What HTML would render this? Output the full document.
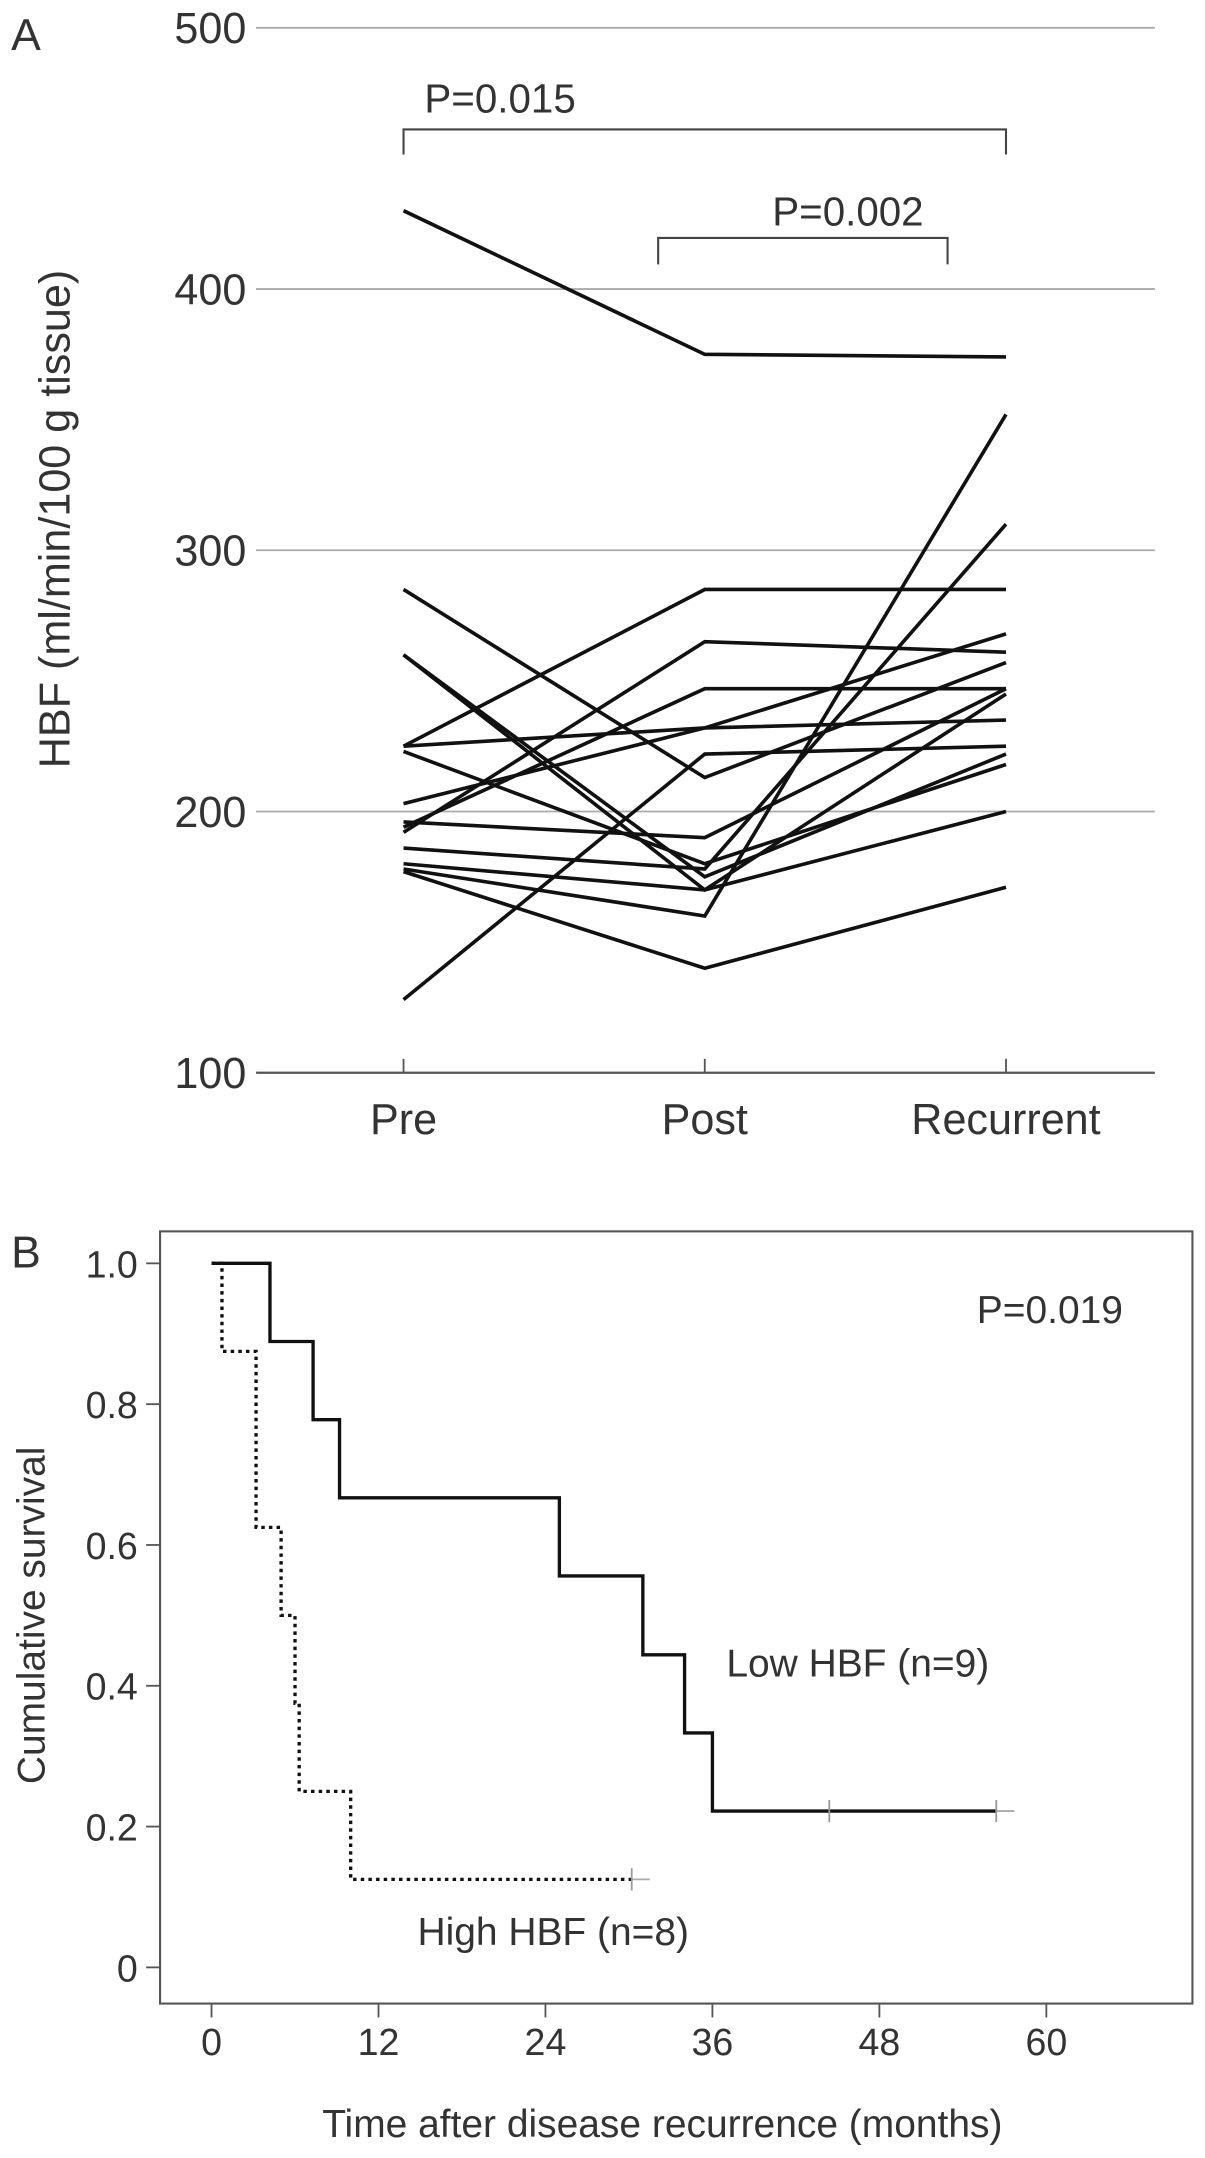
<!DOCTYPE html>
<html><head><meta charset="utf-8"><style>
html,body{margin:0;padding:0;background:#fff}
svg{display:block}
text{font-family:"Liberation Sans",Arial,sans-serif;fill:#333}
</style></head><body>
<svg id="chart" width="1205" height="2158" viewBox="0 0 866 1551" xmlns="http://www.w3.org/2000/svg">
<g id="panelA"></g>
<g id="panelB"></g>
</svg>
<script>
// Panel A data
const categoriesA = ["Pre","Post","Recurrent"];
const yTicksA = [100,200,300,400,500];
const preVals  = [430,285,260,260,225,225,223,203,196,194,192,186,180,178,177,128];
const postVals = [375,213,170,175,285,232,180,232,190,247,265,178,170,160,140,222];
const recVals  = [374,257,245,222,285,235,218,268,247,247,261,310,200,352,171,225];
// Panel B data
const xTicksB = [0,12,24,36,48,60];
const yTicksB = [0,0.2,0.4,0.6,0.8,1.0];
const lowTimes = [0,4.2,7.3,9.2,25,31,34,36,56.4];
const lowSurv  = [1.0,0.889,0.778,0.667,0.556,0.444,0.333,0.222,0.222];
const lowCensor = [44.4,56.4];
const highTimes = [0,0.75,3.2,5,6,6.3,10,30.2];
const highSurv  = [1.0,0.875,0.625,0.5,0.375,0.25,0.125,0.125];
const highCensor = [30.2];

const NS="http://www.w3.org/2000/svg";
function mk(parent,tag,attrs,txt){const e=document.createElementNS(NS,tag);for(const k in attrs)e.setAttribute(k,attrs[k]);if(txt!==undefined)e.textContent=txt;parent.appendChild(e);return e;}

// ---- Panel A ----
const A=document.getElementById('panelA');
const yA=v=>771-(v-100)*(751/400);
const xA=i=>290+i*216.5;
mk(A,'text',{x:8,y:36,'font-size':32,},'A');
yTicksA.forEach(t=>{
  const g=mk(A,'line',{x1:184,x2:830,y1:yA(t),y2:yA(t),stroke:t===100?'#555':'#aaa','stroke-width':t===100?1.6:1.3});
  
  
  const lb=mk(A,'text',{x:177,y:yA(t)+11,'font-size':31,'text-anchor':'end'},String(t));
  
  
});
categoriesA.forEach((c,i)=>{
  const tk=mk(A,'line',{x1:xA(i),x2:xA(i),y1:yA(100),y2:yA(100)-10,stroke:'#555','stroke-width':1.3});
  
  
  const lb=mk(A,'text',{x:xA(i),y:815,'font-size':31,'text-anchor':'middle'},c);
  
  
});
const yt=mk(A,'text',{x:0,y:0,'font-size':31,'text-anchor':'middle',transform:'translate(50,373) rotate(-90)'},'HBF (ml/min/100 g tissue)');


preVals.forEach((p,i)=>{
  const pl=mk(A,'polyline',{points:[[xA(0),yA(p)],[xA(1),yA(postVals[i])],[xA(2),yA(recVals[i])]].map(a=>a.join(',')).join(' '),fill:'none',stroke:'#111','stroke-width':2.6});
  
  
});
const b1=mk(A,'path',{d:'M290,111 V93 H723 V111',fill:'none',stroke:'#444','stroke-width':1.5});


const p1=mk(A,'text',{x:305,y:81,'font-size':29},'P=0.015');


const b2=mk(A,'path',{d:'M473,190 V171 H681 V190',fill:'none',stroke:'#444','stroke-width':1.5});


const p2=mk(A,'text',{x:555,y:162,'font-size':29},'P=0.002');



// ---- Panel B ----
const B=document.getElementById('panelB');
const xB=t=>152+t*(600/60);
const yB=s=>1414-s*506;
mk(B,'text',{x:8,y:911,'font-size':32,},'B');
const box=mk(B,'rect',{x:115,y:885,width:742,height:555,fill:'none',stroke:'#555','stroke-width':1.5});


yTicksB.forEach(t=>{
  const l=mk(B,'line',{x1:105,x2:115,y1:yB(t),y2:yB(t),stroke:'#555','stroke-width':1.3});
  
  
  const lb=mk(B,'text',{x:99,y:yB(t)+10,'font-size':27,'text-anchor':'end'},t===0?'0':t.toFixed(1));
  
  
});
xTicksB.forEach(t=>{
  const l=mk(B,'line',{x1:xB(t),x2:xB(t),y1:1440,y2:1450,stroke:'#555','stroke-width':1.3});
  
  
  const lb=mk(B,'text',{x:xB(t),y:1477,'font-size':27,'text-anchor':'middle'},String(t));
  
  
});
const xt=mk(B,'text',{x:476,y:1536,'font-size':28,'text-anchor':'middle'},'Time after disease recurrence (months)');


const ytb=mk(B,'text',{x:0,y:0,'font-size':28,'text-anchor':'middle',transform:'translate(32,1161) rotate(-90)'},'Cumulative survival');


function stepPath(times,surv){let d='M'+xB(times[0])+','+yB(surv[0]);for(let i=1;i<times.length;i++){d+=' H'+xB(times[i])+' V'+yB(surv[i]);}return d;}
const low=mk(B,'path',{d:stepPath(lowTimes,lowSurv),fill:'none',stroke:'#111','stroke-width':2.4});


const high=mk(B,'path',{d:stepPath(highTimes,highSurv),fill:'none',stroke:'#111','stroke-width':2.4,'stroke-dasharray':'2.5,3'});


const ext1=mk(B,'line',{x1:xB(lowTimes[lowTimes.length-1]),x2:xB(lowTimes[lowTimes.length-1]+1.3),y1:yB(0.222),y2:yB(0.222),stroke:'#aaa','stroke-width':1.3});


const ext2=mk(B,'line',{x1:xB(highTimes[highTimes.length-1]),x2:xB(highTimes[highTimes.length-1]+1.3),y1:yB(0.125),y2:yB(0.125),stroke:'#aaa','stroke-width':1.3});


lowCensor.forEach(t=>{
  const c=mk(B,'line',{x1:xB(t),x2:xB(t),y1:yB(0.222)-8,y2:yB(0.222)+8,stroke:'#999','stroke-width':1.3});
  
  
});
highCensor.forEach(t=>{
  const c=mk(B,'line',{x1:xB(t),x2:xB(t),y1:yB(0.125)-8,y2:yB(0.125)+8,stroke:'#999','stroke-width':1.3});
  
  
});
const pv=mk(B,'text',{x:702,y:951,'font-size':28},'P=0.019');


const l1=mk(B,'text',{x:522,y:1205,'font-size':28},'Low HBF (n=9)');


const l2=mk(B,'text',{x:300,y:1398,'font-size':28},'High HBF (n=8)');


</script>
</body></html>
